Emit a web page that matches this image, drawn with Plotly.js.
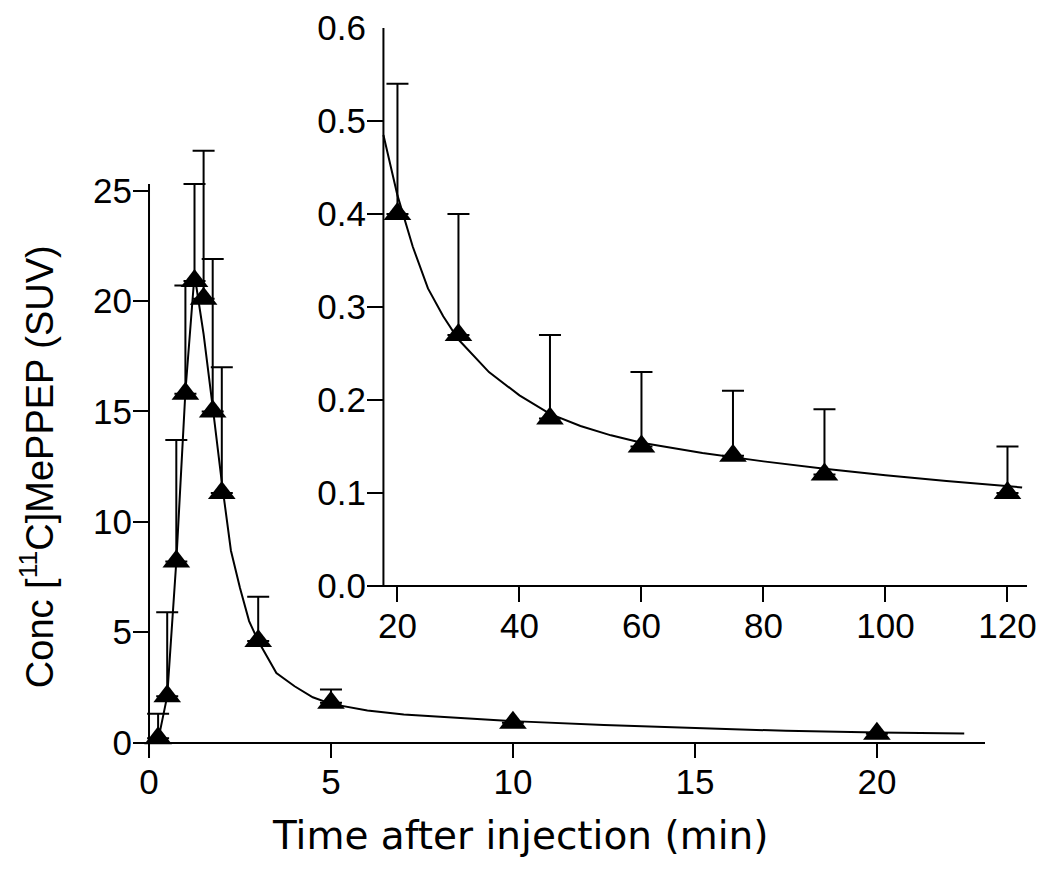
<!DOCTYPE html>
<html>
<head>
<meta charset="utf-8">
<script src="https://cdn.plot.ly/plotly-3.0.1.min.js"></script>
<style>html,body{margin:0;padding:0;background:#fff;}</style>
</head>
<body>
<div id="chart" style="width:1050px;height:869px;"></div>
<script>
// ---- Main panel (0-20 min) ----
const mainTime = [0.25, 0.5, 0.75, 1.0, 1.25, 1.5, 1.75, 2.0, 3.0, 5.0, 10.0, 20.0];
const mainConc = [0.2, 2.1, 8.2, 15.8, 20.9, 20.1, 15.0, 11.3, 4.6, 1.8, 0.9, 0.4];
const mainUpper = [1.3, 5.9, 13.7, 20.7, 25.3, 26.8, 21.9, 17.0, 6.6, 2.4, 0.9, 0.4];
const mainFitTime = [0.25, 0.5, 0.75, 1.0, 1.25, 1.5, 1.75, 2.0, 2.25, 2.5, 2.75, 3.0, 3.5, 4.0, 4.5, 5.0, 6.0, 7.0, 8.0, 10.0, 12.5, 15.0, 17.5, 20.0, 22.4];
const mainFitConc = [0.1, 2.1, 8.2, 15.9, 21.2, 18.5, 15.2, 11.8, 8.7, 7.0, 5.5, 4.6, 3.15, 2.55, 2.05, 1.75, 1.45, 1.27, 1.17, 0.97, 0.8, 0.65, 0.53, 0.45, 0.41];
const mainXTicks = [0, 5, 10, 15, 20];
const mainYTicks = [0, 5, 10, 15, 20, 25];
const mainXTitle = 'Time after injection (min)';
const mainYTitle = 'Conc [<sup>11</sup>C]MePPEP (SUV)';

// ---- Inset panel (20-120 min) ----
const insetTime = [20, 30, 45, 60, 75, 90, 120];
const insetConc = [0.40, 0.27, 0.18, 0.15, 0.14, 0.12, 0.10];
const insetUpper = [0.54, 0.40, 0.27, 0.23, 0.21, 0.19, 0.15];
const insetFitTime = [17.7, 20, 22.5, 25, 27.5, 30, 35, 40, 45, 50, 55, 60, 70, 80, 90, 100, 110, 122.4];
const insetFitConc = [0.485, 0.42, 0.365, 0.32, 0.29, 0.265, 0.23, 0.205, 0.185, 0.172, 0.162, 0.154, 0.143, 0.134, 0.126, 0.119, 0.113, 0.106];
const insetXTicks = [20, 40, 60, 80, 100, 120];
const insetYTicks = [0.0, 0.1, 0.2, 0.3, 0.4, 0.5, 0.6];

const FONT = 'Liberation Sans, Arial, sans-serif';
const diff = (u, v) => u.map((x, i) => Math.max(0, x - v[i]));

const traces = [
  {x: mainFitTime, y: mainFitConc, mode: 'lines', line: {color: '#000', width: 2}, xaxis: 'x', yaxis: 'y', hoverinfo: 'skip'},
  {x: mainTime, y: mainConc, mode: 'markers', xaxis: 'x', yaxis: 'y', cliponaxis: false,
   marker: {symbol: 'triangle-up', size: 24, color: '#000'},
   error_y: {type: 'data', symmetric: false, array: diff(mainUpper, mainConc), arrayminus: mainConc.map(() => 0), color: '#000', thickness: 2, width: 11}},
  {x: insetFitTime, y: insetFitConc, mode: 'lines', line: {color: '#000', width: 2}, xaxis: 'x2', yaxis: 'y2', hoverinfo: 'skip'},
  {x: insetTime, y: insetConc, mode: 'markers', xaxis: 'x2', yaxis: 'y2', cliponaxis: false,
   marker: {symbol: 'triangle-up', size: 24, color: '#000'},
   error_y: {type: 'data', symmetric: false, array: diff(insetUpper, insetConc), arrayminus: insetConc.map(() => 0), color: '#000', thickness: 2, width: 11}}
];

const tickStyle = {ticks: 'inside', ticklen: 16, tickwidth: 2, tickcolor: '#000', showgrid: false, showline: false,
  zeroline: true, zerolinecolor: '#000', zerolinewidth: 2, tickfont: {family: FONT, size: 35, color: '#000'}};

const layout = {
  width: 1050, height: 869,
  margin: {l: 133, r: 23, t: 28, b: 111},
  paper_bgcolor: '#fff', plot_bgcolor: 'rgba(0,0,0,0)',
  showlegend: false,
  font: {family: FONT, color: '#000'},
  xaxis: Object.assign({}, tickStyle, {domain: [0, 0.953], range: [-0.44, 22.97], tickvals: mainXTicks, anchor: 'y', zeroline: false}),
  yaxis: Object.assign({}, tickStyle, {domain: [0, 0.8438], range: [-0.7, 27.2], tickvals: mainYTicks, anchor: 'x'}),
  xaxis2: Object.assign({}, tickStyle, {domain: [0.2617, 1], range: [15.0, 123.2], tickvals: insetXTicks, anchor: 'y2'}),
  yaxis2: Object.assign({}, tickStyle, {domain: [0.2137, 1], range: [-0.0172, 0.6], tickvals: insetYTicks, tickformat: '.1f', anchor: 'x2'}),
  annotations: [
    {text: mainXTitle, xref: 'paper', yref: 'paper', x: 0.433, y: -0.106, xanchor: 'center', yanchor: 'middle', showarrow: false,
     font: {family: 'DejaVu Sans, sans-serif', size: 39, color: '#000'}},
    {text: mainYTitle, xref: 'paper', yref: 'paper', x: -0.108, y: 0.399, xanchor: 'center', yanchor: 'middle', showarrow: false, textangle: -90,
     font: {family: FONT, size: 38, color: '#000'}}
  ],
  shapes: [
    // main y-axis line (x = 0), from the bottom of the plot to just above the 25 tick
    {type: 'line', xref: 'x', yref: 'y', x0: 0, x1: 0, y0: -0.7, y1: 25.3, line: {color: '#000', width: 2}},
    // inset y-axis line, crossing the inset x-axis where the fit curve begins
    {type: 'line', xref: 'x2', yref: 'y2', x0: insetFitTime[0], x1: insetFitTime[0], y0: 0, y1: insetYTicks[insetYTicks.length - 1], line: {color: '#000', width: 2}}
  ]
};

Plotly.newPlot('chart', traces, layout, {displayModeBar: false, staticPlot: true});
</script>
</body>
</html>
